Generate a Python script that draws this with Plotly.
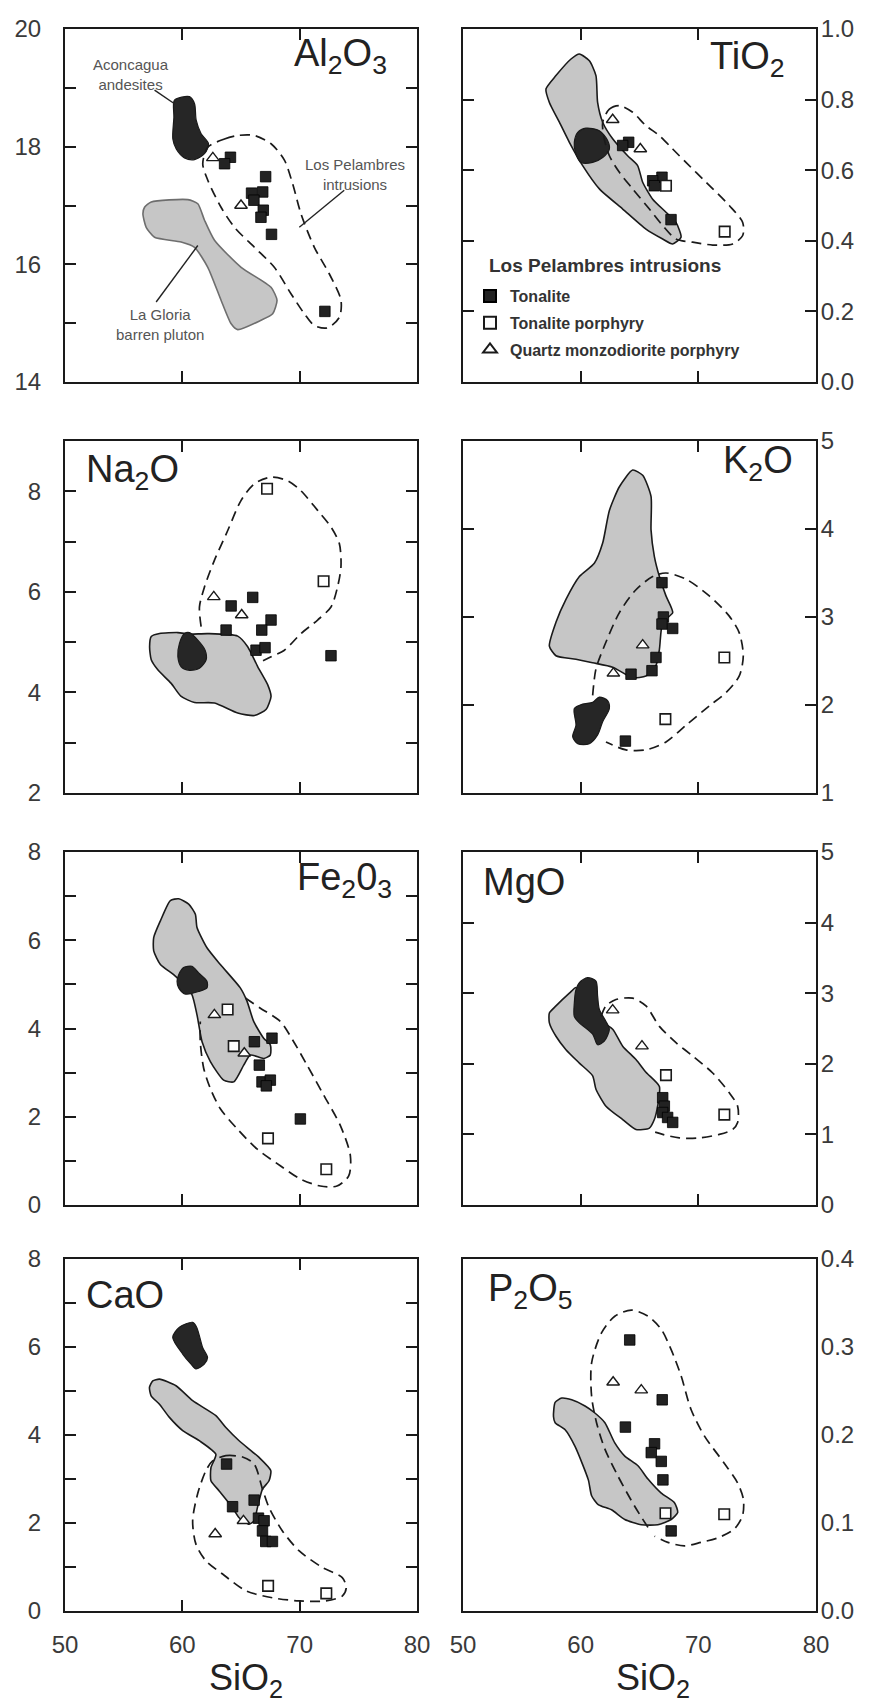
import plotly.graph_objects as go

# ---------------- data ----------------
PANELS = ["Al2O3", "TiO2", "Na2O", "K2O", "Fe2O3", "MgO", "CaO", "P2O5"]
PANEL_LABELS = ["Al<sub>2</sub>O<sub>3</sub>", "TiO<sub>2</sub>", "Na<sub>2</sub>O", "K<sub>2</sub>O",
                "Fe<sub>2</sub>0<sub>3</sub>", "MgO", "CaO", "P<sub>2</sub>O<sub>5</sub>"]
SIO2_RANGE = [50, 80]
SIO2_TICKS = [50, 60, 70, 80]
Y_RANGES = {"Al2O3": [14, 20], "TiO2": [0, 1.0], "Na2O": [2, 9], "K2O": [1, 5],
            "Fe2O3": [0, 8], "MgO": [0, 5], "CaO": [0, 8], "P2O5": [0, 0.4]}
Y_TICK_STEP = {"Al2O3": 2, "TiO2": 0.2, "Na2O": 2, "K2O": 1,
               "Fe2O3": 2, "MgO": 1, "CaO": 2, "P2O5": 0.1}
Y_MINOR_STEP = {"Al2O3": 1, "Na2O": 1, "Fe2O3": 1, "CaO": 1}
Y_TICK_FORMAT = {"TiO2": ".1f", "P2O5": ".1f"}

# Los Pelambres intrusions - Tonalite (filled squares): (SiO2 list, oxide list)
tonalite = {
    "Al2O3": ([64.1, 63.6, 67.1, 65.9, 66.85, 66.1, 66.9, 66.7, 67.6, 72.15],
              [17.82, 17.71, 17.49, 17.21, 17.23, 17.09, 16.92, 16.80, 16.51, 15.20]),
    "TiO2": ([64.08, 63.57, 66.91, 66.12, 66.26, 67.68],
             [0.679, 0.670, 0.580, 0.570, 0.556, 0.460]),
    "Na2O": ([63.73, 64.16, 66.0, 67.56, 66.77, 66.28, 67.05, 72.67],
             [5.24, 5.72, 5.89, 5.44, 5.24, 4.84, 4.89, 4.73]),
    "K2O": ([66.91, 67.03, 66.91, 67.82, 66.40, 66.06, 64.28, 63.80],
            [3.39, 3.00, 2.92, 2.87, 2.54, 2.39, 2.35, 1.59]),
    "Fe2O3": ([66.14, 67.64, 66.56, 66.79, 67.50, 67.16, 70.06],
              [3.70, 3.78, 3.17, 2.79, 2.83, 2.70, 1.95]),
    "MgO": ([66.97, 67.11, 66.97, 67.39, 67.82],
            [1.52, 1.40, 1.31, 1.24, 1.17]),
    "CaO": ([63.77, 64.28, 66.12, 66.49, 66.97, 66.83, 67.11, 67.68],
            [3.34, 2.37, 2.52, 2.11, 2.05, 1.82, 1.58, 1.58]),
    "P2O5": ([64.17, 66.93, 63.80, 66.28, 66.00, 66.85, 66.99, 67.69],
             [0.308, 0.240, 0.209, 0.190, 0.180, 0.170, 0.149, 0.091]),
}

# Tonalite porphyry (open squares)
tonalite_porphyry = {
    "Al2O3": ([], []),
    "TiO2": ([67.25, 72.24], [0.556, 0.426]),
    "Na2O": ([67.22, 72.04], [8.05, 6.21]),
    "K2O": ([72.21, 67.20], [2.54, 1.84]),
    "Fe2O3": ([63.86, 64.38, 67.30, 72.27], [4.43, 3.60, 1.51, 0.81]),
    "MgO": ([67.25, 72.21], [1.84, 1.28]),
    "CaO": ([67.31, 72.27], [0.57, 0.40]),
    "P2O5": ([67.21, 72.20], [0.111, 0.110]),
}

# Quartz monzodiorite porphyry (open triangles)
qmd_porphyry = {
    "Al2O3": ([62.6, 65.0], [17.81, 17.0]),
    "TiO2": ([62.72, 65.07], [0.743, 0.660]),
    "Na2O": ([62.68, 65.06], [5.90, 5.54]),
    "K2O": ([65.27, 62.78], [2.68, 2.36]),
    "Fe2O3": ([62.73, 65.28], [4.31, 3.44]),
    "MgO": ([62.72, 65.21], [2.76, 2.25]),
    "CaO": ([62.80, 65.21], [1.75, 2.05]),
    "P2O5": ([62.76, 65.15], [0.260, 0.251]),
}

# La Gloria barren pluton field (grey polygon), vertices (SiO2, oxide)
la_gloria = {
    "Al2O3": [(56.78, 16.97), (57.35, 17.06), (60.47, 17.10), (61.32, 17.03), (61.89, 16.75), (62.74, 16.41),
              (65.01, 15.95), (67.56, 15.61), (68.07, 15.39), (67.70, 15.16), (66.71, 15.05), (64.72, 14.89),
              (64.16, 14.99), (63.30, 15.39), (62.17, 15.95), (61.04, 16.29), (59.90, 16.38), (57.63, 16.46),
              (56.92, 16.63), (56.64, 16.86)],
    "TiO2": [(57.05, 0.830), (57.90, 0.868), (59.18, 0.915), (59.89, 0.929), (60.74, 0.910), (61.30, 0.868),
             (61.44, 0.792), (61.87, 0.736), (62.72, 0.689), (63.99, 0.641), (64.84, 0.613), (65.27, 0.566),
             (66.12, 0.518), (67.25, 0.481), (68.10, 0.452), (68.53, 0.410), (67.82, 0.391), (66.97, 0.405),
             (65.55, 0.433), (63.57, 0.490), (61.59, 0.547), (60.17, 0.613), (59.04, 0.679), (58.19, 0.736),
             (57.34, 0.792)],
    "Na2O": [(57.35, 5.11), (58.06, 5.17), (59.62, 5.19), (60.61, 5.16), (62.17, 5.17), (64.72, 5.12),
             (65.57, 4.91), (66.43, 4.51), (67.28, 4.15), (67.56, 3.92), (67.13, 3.66), (66.14, 3.54),
             (64.72, 3.59), (62.74, 3.79), (61.04, 3.80), (59.90, 3.92), (59.05, 4.18), (57.91, 4.45),
             (57.35, 4.65), (57.21, 4.91)],
    "K2O": [(57.34, 2.67), (57.90, 2.94), (58.75, 3.20), (59.89, 3.46), (61.16, 3.61), (61.87, 3.84),
            (62.44, 4.21), (63.29, 4.48), (64.42, 4.67), (65.27, 4.61), (65.98, 4.37), (65.98, 3.99),
            (66.26, 3.69), (66.69, 3.46), (67.25, 3.24), (67.82, 3.05), (66.97, 2.94), (66.69, 2.63),
            (66.40, 2.45), (65.55, 2.33), (64.42, 2.31), (62.72, 2.43), (61.02, 2.48), (59.60, 2.52),
            (57.90, 2.56)],
    "Fe2O3": [(57.56, 6.06), (58.13, 6.44), (58.98, 6.90), (59.69, 6.94), (60.54, 6.82), (61.11, 6.59),
              (61.25, 6.29), (62.10, 5.83), (63.24, 5.45), (64.94, 4.92), (65.51, 4.62), (66.08, 4.16),
              (66.93, 3.78), (67.50, 3.63), (67.50, 3.40), (66.93, 3.32), (65.80, 3.40), (65.23, 3.17),
              (64.38, 2.79), (63.52, 2.83), (62.39, 3.25), (61.68, 3.70), (61.25, 4.31), (60.82, 4.77),
              (60.11, 5.00), (59.26, 5.22), (58.13, 5.45), (57.56, 5.76)],
    "MgO": [(57.34, 2.72), (57.90, 2.82), (59.04, 3.00), (59.60, 3.08), (59.89, 2.86), (60.45, 2.67),
            (61.87, 2.58), (62.72, 2.49), (63.57, 2.25), (64.70, 2.06), (65.55, 1.88), (66.69, 1.68),
            (66.54, 1.40), (66.26, 1.21), (65.84, 1.09), (64.70, 1.07), (63.57, 1.21), (62.15, 1.40),
            (61.30, 1.64), (61.02, 1.83), (59.89, 2.01), (58.75, 2.20), (57.90, 2.39), (57.34, 2.58)],
    "CaO": [(57.20, 5.08), (57.48, 5.23), (58.05, 5.27), (59.46, 5.12), (60.88, 4.78), (62.86, 4.44),
            (63.71, 4.17), (64.84, 3.87), (66.54, 3.49), (67.54, 3.19), (67.39, 2.96), (66.83, 2.77),
            (66.40, 2.35), (66.12, 2.05), (65.69, 1.97), (64.84, 2.12), (64.28, 2.35), (63.14, 2.73),
            (62.44, 2.96), (62.44, 3.26), (62.86, 3.56), (61.44, 3.87), (60.03, 4.10), (58.90, 4.40),
            (58.05, 4.70), (57.34, 4.89)],
    "P2O5": [(57.69, 0.221), (57.83, 0.237), (58.39, 0.242), (59.24, 0.240), (60.37, 0.233), (61.21, 0.225),
             (62.06, 0.214), (62.90, 0.191), (63.75, 0.176), (64.87, 0.165), (65.72, 0.150), (66.85, 0.134),
             (67.97, 0.123), (68.25, 0.112), (67.69, 0.104), (66.56, 0.098), (65.15, 0.098), (63.75, 0.104),
             (62.62, 0.115), (61.49, 0.121), (60.93, 0.131), (60.65, 0.149), (59.52, 0.187), (58.68, 0.206),
             (57.83, 0.214)],
}

# Aconcagua andesites field (black polygon)
aconcagua = {
    "Al2O3": [(59.33, 18.79), (60.61, 18.85), (61.04, 18.73), (61.18, 18.45), (61.60, 18.22), (62.23, 18.05),
              (61.89, 17.88), (61.04, 17.78), (60.18, 17.81), (59.48, 17.96), (59.19, 18.13), (59.28, 18.50)],
    "TiO2": [(59.46, 0.679), (59.75, 0.707), (60.45, 0.719), (61.59, 0.712), (62.29, 0.684), (62.44, 0.660),
             (61.87, 0.636), (61.02, 0.622), (60.03, 0.622), (59.55, 0.651)],
    "Na2O": [(60.18, 5.17), (60.61, 5.19), (61.32, 5.04), (61.94, 4.84), (62.03, 4.65), (61.46, 4.48),
             (60.61, 4.44), (59.90, 4.51), (59.62, 4.71), (59.76, 4.98)],
    "K2O": [(59.46, 1.96), (60.17, 2.01), (61.02, 2.03), (61.59, 2.09), (62.29, 2.05), (62.44, 1.96),
            (61.87, 1.81), (61.44, 1.66), (60.74, 1.56), (59.75, 1.56), (59.32, 1.64), (59.60, 1.77)],
    "Fe2O3": [(59.69, 5.22), (60.11, 5.38), (60.82, 5.41), (61.39, 5.26), (62.10, 5.07), (62.10, 4.92),
              (61.39, 4.84), (60.26, 4.78), (59.69, 4.92), (59.55, 5.07)],
    "MgO": [(59.60, 3.05), (59.89, 3.15), (60.59, 3.22), (61.30, 3.17), (61.44, 2.96), (61.59, 2.77),
            (62.15, 2.60), (62.44, 2.49), (62.01, 2.32), (61.44, 2.27), (61.02, 2.42), (59.89, 2.58),
            (59.46, 2.67), (59.46, 2.86)],
    "CaO": [(59.18, 6.22), (59.75, 6.45), (60.88, 6.56), (61.22, 6.45), (61.73, 5.99), (62.15, 5.76),
            (61.87, 5.61), (61.16, 5.50), (60.74, 5.61), (60.03, 5.84)],
    "P2O5": [],
}

# Los Pelambres intrusions envelope (dashed outline)
pelambres = {
    "Al2O3": [(62.17, 17.99), (63.59, 18.13), (64.72, 18.19), (66.14, 18.19), (67.56, 18.05), (68.70, 17.77),
              (69.40, 17.37), (70.11, 16.86), (71.25, 16.29), (72.52, 15.84), (73.52, 15.39), (73.38, 15.10),
              (72.38, 14.92), (71.25, 14.96), (70.40, 15.16), (69.26, 15.50), (67.84, 15.95), (66.14, 16.29),
              (64.44, 16.63), (63.30, 16.97), (62.17, 17.43), (61.74, 17.71)],
    "TiO2": [(61.87, 0.736), (62.44, 0.773), (63.29, 0.783), (64.42, 0.764), (65.55, 0.726), (66.69, 0.698),
             (67.82, 0.660), (68.95, 0.622), (70.65, 0.566), (72.63, 0.500), (73.77, 0.452), (73.77, 0.415),
             (72.92, 0.391), (71.22, 0.388), (69.52, 0.396), (68.10, 0.405), (66.97, 0.443), (65.84, 0.490),
             (64.42, 0.547), (63.29, 0.594), (62.44, 0.641), (62.01, 0.688)],
    "Na2O": [(61.60, 5.31), (61.46, 5.70), (61.89, 6.10), (62.74, 6.63), (63.87, 7.22), (65.01, 7.82),
             (66.14, 8.15), (67.56, 8.28), (68.98, 8.21), (70.11, 8.01), (71.53, 7.62), (72.67, 7.29),
             (73.38, 6.96), (73.52, 6.50), (73.23, 6.10), (72.67, 5.70), (71.53, 5.44), (70.11, 5.17),
             (68.70, 4.84), (67.56, 4.71), (66.71, 4.61)],
    "K2O": [(61.02, 2.11), (61.30, 2.41), (62.01, 2.67), (63.29, 3.05), (64.70, 3.31), (66.12, 3.46),
            (67.25, 3.50), (68.95, 3.43), (70.93, 3.24), (72.63, 3.01), (73.48, 2.82), (73.82, 2.56),
            (73.48, 2.33), (72.35, 2.14), (70.93, 1.99), (68.95, 1.77), (67.25, 1.58), (65.55, 1.49),
            (63.85, 1.49), (62.15, 1.58)],
    "Fe2O3": [(65.37, 4.69), (66.65, 4.46), (68.35, 4.16), (69.49, 3.70), (70.63, 3.17), (72.05, 2.49),
              (73.47, 1.80), (74.32, 1.12), (74.18, 0.66), (73.18, 0.43), (71.76, 0.43), (70.06, 0.59),
              (68.35, 0.89), (66.36, 1.27), (64.66, 1.73), (63.24, 2.18), (62.39, 2.64), (61.82, 3.10),
              (61.53, 3.70), (61.53, 4.16)],
    "MgO": [(61.73, 2.67), (62.15, 2.82), (63.00, 2.91), (64.42, 2.93), (65.55, 2.82), (66.69, 2.53),
            (68.10, 2.30), (69.52, 2.11), (71.22, 1.87), (72.63, 1.59), (73.34, 1.40), (73.34, 1.17),
            (72.92, 1.07), (71.78, 1.00), (70.08, 0.95), (68.39, 0.95), (66.97, 1.00), (65.98, 1.05)],
    "CaO": [(62.58, 3.41), (63.71, 3.53), (65.13, 3.50), (66.12, 3.34), (66.83, 2.77), (67.39, 2.35),
            (68.53, 1.82), (69.94, 1.37), (71.93, 0.99), (73.63, 0.76), (73.97, 0.53), (73.63, 0.34),
            (72.21, 0.23), (69.94, 0.23), (67.68, 0.30), (65.41, 0.46), (63.43, 0.84), (62.01, 1.14),
            (61.16, 1.52), (60.88, 2.05), (61.30, 2.66), (62.01, 3.19)],
    "P2O5": [(65.72, 0.095), (64.59, 0.119), (63.18, 0.153), (62.06, 0.184), (61.35, 0.214), (60.93, 0.244),
             (60.93, 0.282), (61.77, 0.316), (62.90, 0.335), (64.31, 0.342), (65.72, 0.335), (66.85, 0.320),
             (67.69, 0.297), (68.54, 0.267), (69.38, 0.229), (70.51, 0.199), (72.20, 0.168), (73.32, 0.146),
             (73.83, 0.127), (73.75, 0.108), (73.04, 0.093), (71.63, 0.083), (70.23, 0.078), (68.82, 0.074),
             (67.41, 0.078), (66.28, 0.085)],
}
PELAMBRES_CLOSED = {"Al2O3": True, "TiO2": True, "Na2O": False, "K2O": False,
                    "Fe2O3": False, "MgO": False, "CaO": True, "P2O5": False}

# Al2O3 panel field labels with leader lines: (text, label pos, line start, line end)
AL2O3_NOTES = [
    ("Aconcagua<br>andesites", (55.6, 19.23), (57.63, 18.96), (59.33, 18.73)),
    ("Los Pelambres<br>intrusions", (74.7, 17.53), (73.8, 17.26), (69.97, 16.63)),
    ("La Gloria<br>barren pluton", (58.06, 14.98), (57.77, 15.36), (61.32, 16.32)),
]
LEGEND_TITLE = "Los Pelambres intrusions"

# ---------------- layout geometry (pixels in the 876 x 1705 page) ----------------
W, H = 876, 1705
COL_X = [(57, 409), (455, 808)]
ROW_Y = [(21, 374), (433, 785), (844, 1197), (1251, 1603)]
FONT = "Arial, Liberation Sans, Helvetica, sans-serif"
INK = "#1a1a1a"
TXT = "#3a3a3a"

fig = go.Figure()
layout = {}

for i, name in enumerate(PANELS):
    row, col = divmod(i, 2)
    n = i + 1
    xa, ya = f"x{n}" if n > 1 else "x", f"y{n}" if n > 1 else "y"
    x0, x1 = COL_X[col]
    t, b = ROW_Y[row]
    has_ticks = name != "P2O5"

    lo, hi = Y_RANGES[name]
    step = Y_TICK_STEP[name]
    yaxis = dict(
        domain=[1 - b / H, 1 - t / H], range=[lo, hi], anchor=xa, automargin=False,
        side="left" if col == 0 else "right",
        showline=True, linewidth=2, linecolor=INK, mirror="ticks" if has_ticks else True,
        ticks="inside" if has_ticks else "", ticklen=11, tickwidth=1.8, tickcolor=INK,
        showgrid=False, zeroline=False, fixedrange=True,
        tickfont=dict(family=FONT, size=24, color=TXT),
        ticklabelstandoff=17 if col == 0 else -2,
        tickformat=Y_TICK_FORMAT.get(name, ""),
        tickmode="linear", tick0=lo, dtick=step,
    )
    if name in Y_MINOR_STEP:
        yaxis["minor"] = dict(dtick=Y_MINOR_STEP[name], tick0=lo, ticks="inside", ticklen=11,
                              tickwidth=1.8, tickcolor=INK, showgrid=False)
    xaxis = dict(
        domain=[x0 / W, x1 / W], range=SIO2_RANGE, anchor=ya, automargin=False,
        showline=True, linewidth=2, linecolor=INK, mirror="ticks" if has_ticks else True,
        ticks="inside" if has_ticks else "", ticklen=11, tickwidth=1.8, tickcolor=INK,
        tickmode="array", tickvals=SIO2_TICKS, showgrid=False, zeroline=False, fixedrange=True,
        showticklabels=(row == 3), tickfont=dict(family=FONT, size=24, color=TXT),
        ticklabelstandoff=11,
    )
    layout["xaxis" if n == 1 else f"xaxis{n}"] = xaxis
    layout["yaxis" if n == 1 else f"yaxis{n}"] = yaxis

    # grey La Gloria field
    poly = la_gloria[name]
    if poly:
        fig.add_trace(go.Scatter(
            x=[p[0] for p in poly] + [poly[0][0]], y=[p[1] for p in poly] + [poly[0][1]],
            xaxis=xa, yaxis=ya, mode="lines", fill="toself", fillcolor="#c6c6c6",
            line=dict(color="#6e6e6e" if name == "Al2O3" else INK, width=1.6, shape="spline", smoothing=0.6),
            showlegend=False, hoverinfo="skip"))
    # black Aconcagua field
    poly = aconcagua[name]
    if poly:
        fig.add_trace(go.Scatter(
            x=[p[0] for p in poly] + [poly[0][0]], y=[p[1] for p in poly] + [poly[0][1]],
            xaxis=xa, yaxis=ya, mode="lines", fill="toself", fillcolor="#262626",
            line=dict(color="#1a1a1a", width=1.2, shape="spline", smoothing=0.8),
            showlegend=False, hoverinfo="skip"))
    # dashed Los Pelambres envelope
    poly = pelambres[name]
    px_ = [p[0] for p in poly]
    py_ = [p[1] for p in poly]
    if PELAMBRES_CLOSED[name]:
        px_ += [poly[0][0]]
        py_ += [poly[0][1]]
    fig.add_trace(go.Scatter(
        x=px_, y=py_, xaxis=xa, yaxis=ya, mode="lines",
        line=dict(color=INK, width=1.7, dash="10px,6px", shape="spline", smoothing=0.8),
        showlegend=False, hoverinfo="skip"))

    # sample points
    tx, ty = tonalite[name]
    fig.add_trace(go.Scatter(
        x=tx, y=ty, xaxis=xa, yaxis=ya, mode="markers", name="Tonalite",
        legendgroup="ton", showlegend=(i == 1),
        marker=dict(symbol="square", size=10.5, color="#222222", line=dict(color="#000000", width=0.8))))
    px2, py2 = tonalite_porphyry[name]
    fig.add_trace(go.Scatter(
        x=px2, y=py2, xaxis=xa, yaxis=ya, mode="markers", name="Tonalite porphyry",
        legendgroup="tp", showlegend=(i == 1),
        marker=dict(symbol="square", size=10.5, color="#ffffff", line=dict(color=INK, width=1.6))))
    qx, qy = qmd_porphyry[name]
    fig.add_trace(go.Scatter(
        x=qx, y=qy, xaxis=xa, yaxis=ya, mode="markers", name="Quartz monzodiorite porphyry",
        legendgroup="qmd", showlegend=(i == 1),
        marker=dict(symbol="triangle-up", size=11, color="#ffffff", line=dict(color=INK, width=1.4))))

# ---------------- annotations ----------------
annotations = []
# panel labels: (x pixel, anchor, y pixel centre)
LABEL_POS = [(381, "right", 48), (779, "right", 51), (76, "left", 464), (787, "right", 455),
             (386, "right", 872), (473, "left", 874), (76, "left", 1287), (478, "left", 1283)]
for lab, (lx, anc, ly) in zip(PANEL_LABELS, LABEL_POS):
    annotations.append(dict(text=lab, x=lx / W, y=1 - ly / H, xref="paper", yref="paper",
                            xanchor=anc, yanchor="middle", showarrow=False,
                            font=dict(family=FONT, size=38, color="#222222")))
for txt, (lx, ly), (ax0, ay0), (ax1, ay1) in AL2O3_NOTES:
    annotations.append(dict(text=txt, x=lx, y=ly, xref="x", yref="y", showarrow=False,
                            xanchor="center", yanchor="middle",
                            font=dict(family=FONT, size=15, color="#555555")))
    fig.add_shape(type="line", x0=ax0, y0=ay0, x1=ax1, y1=ay1, xref="x", yref="y",
                  line=dict(color="#222222", width=1.4))
# SiO2 axis titles
for cx in (238, 645):
    annotations.append(dict(text="SiO<sub>2</sub>", x=cx / W, y=1 - 1672 / H, xref="paper", yref="paper",
                            xanchor="center", yanchor="middle", showarrow=False,
                            font=dict(family=FONT, size=36, color="#222222")))
# legend heading
annotations.append(dict(text=f"<b>{LEGEND_TITLE}</b>", x=479 / W, y=1 - 257 / H, xref="paper", yref="paper",
                        xanchor="left", yanchor="middle", showarrow=False,
                        font=dict(family=FONT, size=19, color="#333333")))

fig.update_layout(
    width=W, height=H, margin=dict(l=0, r=0, t=0, b=0),
    paper_bgcolor="white", plot_bgcolor="white",
    annotations=annotations,
    legend=dict(
        x=462 / W, y=1 - 271 / H, xanchor="left", yanchor="top",
        bgcolor="rgba(0,0,0,0)", tracegroupgap=3, itemsizing="constant",
        font=dict(family=FONT, size=16, color="#333333", weight="bold"),
    ),
    **layout,
)

fig.write_html("out.html")
